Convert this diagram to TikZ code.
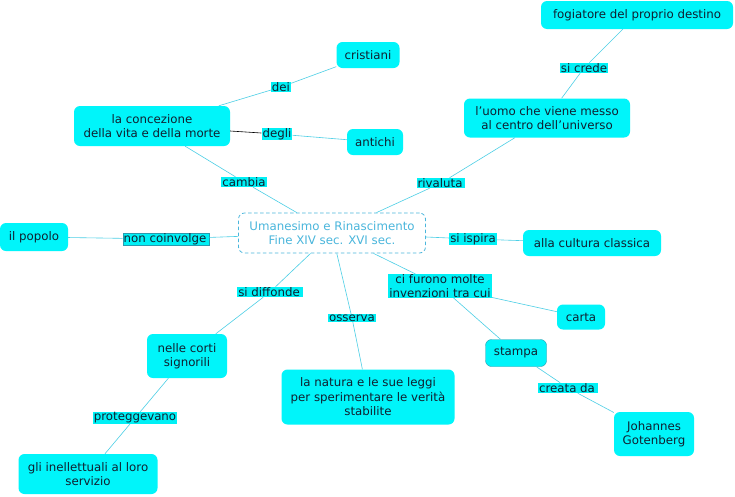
\documentclass[tikz,border=0pt]{standalone}
\usepackage{fontspec}
\setmainfont{DejaVu Sans}
\definecolor{boxcyan}{HTML}{00F5FA}
\definecolor{lblcyan}{HTML}{00F0F5}
\definecolor{linecyan}{HTML}{4CCFE6}
\definecolor{ctrblue}{HTML}{4AB6DC}
\definecolor{txt}{HTML}{102030}
\definecolor{tealedge}{HTML}{2A9AAE}
\begin{document}
\begin{tikzpicture}[x=1pt,y=-1pt,
  concept/.style={fill=boxcyan,draw=none,rounded corners=6pt,align=center,text=txt,font=\fontsize{11.8}{14.5}\selectfont,inner sep=0pt},
  lbl/.style={fill=lblcyan,draw=none,align=center,text=txt,font=\fontsize{11.8}{13.5}\selectfont,inner xsep=1pt,inner ysep=0.5pt},
  link/.style={draw=linecyan,line width=0.6pt},
  central/.style={draw=ctrblue,dash pattern=on 3.5pt off 2.5pt,line width=0.8pt,rounded corners=6pt,fill=white,align=center,text=ctrblue,font=\fontsize{11.8}{14.5}\selectfont,inner sep=0pt}]
\useasboundingbox (0,0) rectangle (735,496);
\fill[white] (0,0) rectangle (735,496);
% concepts
\node[central,minimum width=187pt,minimum height=40pt] (c) at (332,233) {Umanesimo e Rinascimento\\Fine XIV sec. XVI sec.};
\node[concept,minimum width=63pt,minimum height=26pt] (cri) at (368,55) {cristiani};
\node[concept,minimum width=156pt,minimum height=40pt] (con) at (152,126) {la concezione\\della vita e della morte};
\node[concept,minimum width=56pt,minimum height=26pt] (ant) at (375,142) {antichi};
\node[concept,minimum width=192pt,minimum height=28pt] (fog) at (637,15) {fogiatore del proprio destino};
\node[concept,minimum width=166pt,minimum height=39pt] (uom) at (547,118) {l'uomo che viene messo\\ al centro dell'universo};
\node[concept,minimum width=68pt,minimum height=28pt] (pop) at (34,237) {il popolo};
\node[concept,minimum width=138pt,minimum height=26pt] (cul) at (592,243) {alla cultura classica};
\node[concept,minimum width=80pt,minimum height=44pt] (cor) at (187,356) {nelle corti\\signorili};
\node[concept,minimum width=139pt,minimum height=40pt] (int) at (88,474) {gli inellettuali al loro\\servizio};
\node[concept,minimum width=173pt,minimum height=55pt] (nat) at (368,397) {la natura e le sue leggi\\per sperimentare le verità\\stabilite};
\node[concept,minimum width=48pt,minimum height=25pt] (car) at (581,317) {carta};
\node[concept,draw=tealedge,line width=0.4pt,minimum width=61pt,minimum height=27pt] (sta) at (516,353) {stampa};
\node[concept,minimum width=80pt,minimum height=44pt] (joh) at (654,434) {Johannes\\Gotenberg};
% labels
\node[lbl] (ldei) at (281,87) {dei};
\node[lbl] (ldeg) at (277,134) {degli};
\node[lbl] (lcam) at (244,182) {cambia};
\node[lbl] (lcre) at (584,68) {si crede};
\node[lbl] (lriv) at (441,183) {rivaluta\,};
\node[lbl,draw=tealedge,line width=0.4pt] (lnon) at (166,239) {non coinvolge\,};
\node[lbl] (lisp) at (473,239) {si ispira};
\node[lbl] (ldif) at (270,292) {si diffonde\,};
\node[lbl] (lpro) at (135,418) {proteggevano};
\node[lbl] (loss) at (352,318) {osserva};
\node[lbl] (lfur) at (440,286) {ci furono molte\\invenzioni tra cui};
\node[lbl] (lcrd) at (568,388) {creata da\,};
% links
\draw[link] (con) -- (ldei);
\draw[link] (ldei) -- (cri);
\draw[black,line width=0.6pt] (con) -- (ldeg);
\draw[link] (ldeg) -- (ant);
\draw[link] (con) -- (lcam);
\draw[link] (lcam) -- (c);
\draw[link] (uom) -- (lcre);
\draw[link] (lcre) -- (fog);
\draw[link] (c) -- (lriv);
\draw[link] (lriv) -- (uom);
\draw[link] (pop) -- (lnon);
\draw[link] (lnon) -- (c);
\draw[link] (c) -- (lisp);
\draw[link] (lisp) -- (cul);
\draw[link] (c) -- (ldif);
\draw[link] (ldif) -- (cor);
\draw[link] (cor) -- (lpro);
\draw[link] (lpro) -- (int);
\draw[link] (c) -- (loss);
\draw[link] (loss) -- (nat);
\draw[link] (c) -- (lfur);
\draw[link] (lfur) -- (car);
\draw[link] (lfur) -- (sta);
\draw[link] (sta) -- (lcrd);
\draw[link] (lcrd) -- (joh);
\end{tikzpicture}
\end{document}
